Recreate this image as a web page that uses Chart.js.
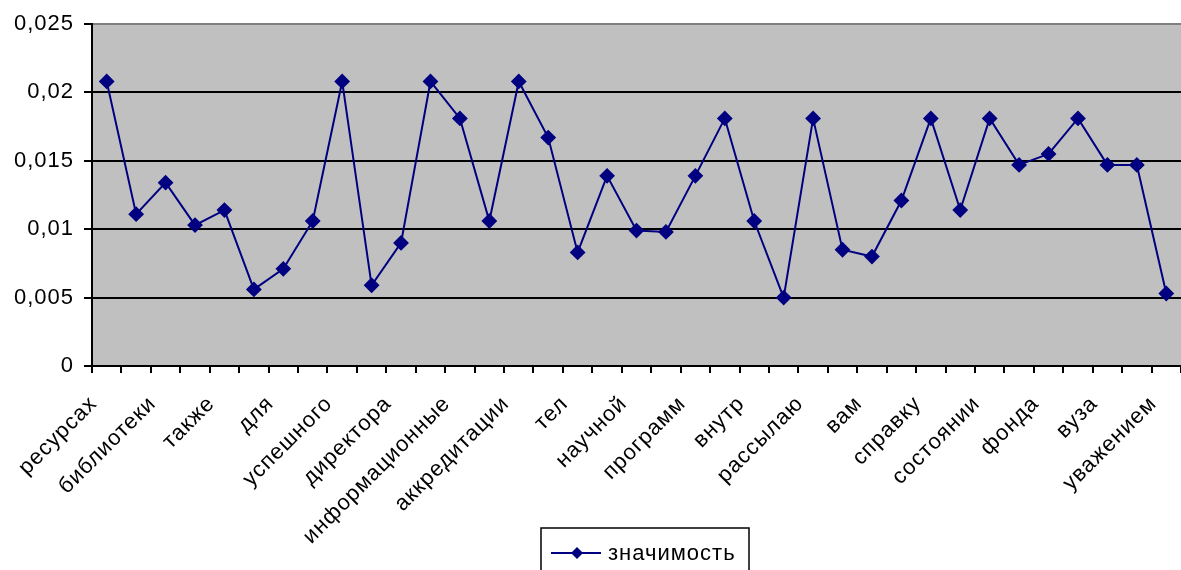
<!DOCTYPE html>
<html lang="ru">
<head>
  <meta charset="UTF-8" />
  <title>значимость</title>
  <script src="https://cdn.jsdelivr.net/npm/chart.js"></script>
  <style>
    html, body { margin: 0; padding: 0; background: #fff; overflow: hidden; }
    canvas { display: block; }
  </style>
</head>
<body>
  <canvas id="chart" width="1181" height="570"></canvas>

  <script>
    // words (every other one is labelled on the axis)
    const words = [
      'ресурсах', '', 'библиотеки', '', 'также', '', 'для', '', 'успешного', '',
      'директора', '', 'информационные', '', 'аккредитации', '', 'тел', '', 'научной', '',
      'программ', '', 'внутр', '', 'рассылаю', '', 'вам', '', 'справку', '',
      'состоянии', '', 'фонда', '', 'вуза', '', 'уважением'
    ];
    const significance = [
      0.0208, 0.0111, 0.0134, 0.0103, 0.0114, 0.0056, 0.0071, 0.0106, 0.0208, 0.0059,
      0.0090, 0.0208, 0.0181, 0.0106, 0.0208, 0.0167, 0.0083, 0.0139, 0.0099, 0.0098,
      0.0139, 0.0181, 0.0106, 0.0050, 0.0181, 0.0085, 0.0080, 0.0121, 0.0181, 0.0114,
      0.0181, 0.0147, 0.0155, 0.0181, 0.0147, 0.0147, 0.0053
    ];
    const yTicks = [0, 0.005, 0.01, 0.015, 0.02, 0.025];
    const seriesName = 'значимость';

    const navy = '#000080';
    const fontFamily = '"Liberation Sans", Arial, sans-serif';

    // the original text is a bit wider than Arial, spread the letters a little
    function spread(chart) { chart.ctx.letterSpacing = '1px'; }

    // grey plot area + boxed legend like the Excel original
    const excelLook = {
      id: 'excelLook',
      beforeLayout: spread,
      beforeDraw(chart) {
        spread(chart);
        const a = chart.chartArea, c = chart.ctx;
        c.save();
        c.fillStyle = '#c0c0c0';
        c.fillRect(a.left, a.top, a.right - a.left, a.bottom - a.top);
        c.restore();
      },
      afterDraw(chart) {
        const a = chart.chartArea, c = chart.ctx;
        const left = (a.left + a.right) / 2 - 95.5, top = 528;
        c.save();
        c.strokeStyle = '#000';
        c.lineWidth = 1.5;
        c.strokeRect(left, top, 208, 60);
        c.strokeStyle = navy;
        c.lineWidth = 2;
        c.beginPath();
        c.moveTo(left + 10, top + 25);
        c.lineTo(left + 60, top + 25);
        c.stroke();
        c.fillStyle = navy;
        c.beginPath();
        c.moveTo(left + 36, top + 19);
        c.lineTo(left + 42, top + 25);
        c.lineTo(left + 36, top + 31);
        c.lineTo(left + 30, top + 25);
        c.closePath();
        c.fill();
        c.fillStyle = '#000';
        c.font = '22px ' + fontFamily;
        c.textBaseline = 'middle';
        c.fillText(seriesName, left + 67, top + 26);
        c.restore();
      }
    };

    new Chart(document.getElementById('chart'), {
      type: 'line',
      data: {
        labels: words,
        datasets: [{
          label: seriesName,
          data: significance,
          borderColor: navy,
          backgroundColor: navy,
          borderWidth: 2,
          tension: 0,
          pointStyle: 'rectRot',
          pointRadius: 6.5,
          pointHoverRadius: 6.5
        }]
      },
      options: {
        responsive: false,
        animation: false,
        layout: { autoPadding: false, padding: { top: 24, right: 0, left: 0, bottom: 0 } },
        plugins: {
          legend: { display: false },
          tooltip: { enabled: false }
        },
        scales: {
          x: {
            offset: true,
            afterFit(scale) {
              scale.height = 204;
              scale.paddingRight = 0;
              scale.paddingLeft = 0;
            },
            grid: {
              offset: true,
              drawOnChartArea: false,
              drawTicks: true,
              tickLength: 7,
              color: '#000',
              lineWidth: 2
            },
            border: { color: '#000', width: 2 },
            ticks: {
              autoSkip: false,
              minRotation: 45,
              maxRotation: 45,
              padding: 18,
              labelOffset: -13,
              color: '#000',
              font: { family: fontFamily, size: 22 }
            }
          },
          y: {
            min: 0,
            max: 0.025,
            afterFit(scale) { scale.width = 92; },
            afterBuildTicks(scale) {
              scale.ticks = yTicks.map(v => ({ value: v }));
            },
            grid: {
              color: ctx => ctx.tick && ctx.tick.value === 0.025 ? '#808080' : '#000',
              lineWidth: 2,
              tickLength: 8,
              tickColor: '#000'
            },
            border: { color: '#000', width: 2 },
            ticks: {
              padding: 10,
              color: '#000',
              font: { family: fontFamily, size: 22 },
              callback: v => String(parseFloat(v.toFixed(4))).replace('.', ',')
            }
          }
        }
      },
      plugins: [excelLook]
    });
  </script>
</body>
</html>
